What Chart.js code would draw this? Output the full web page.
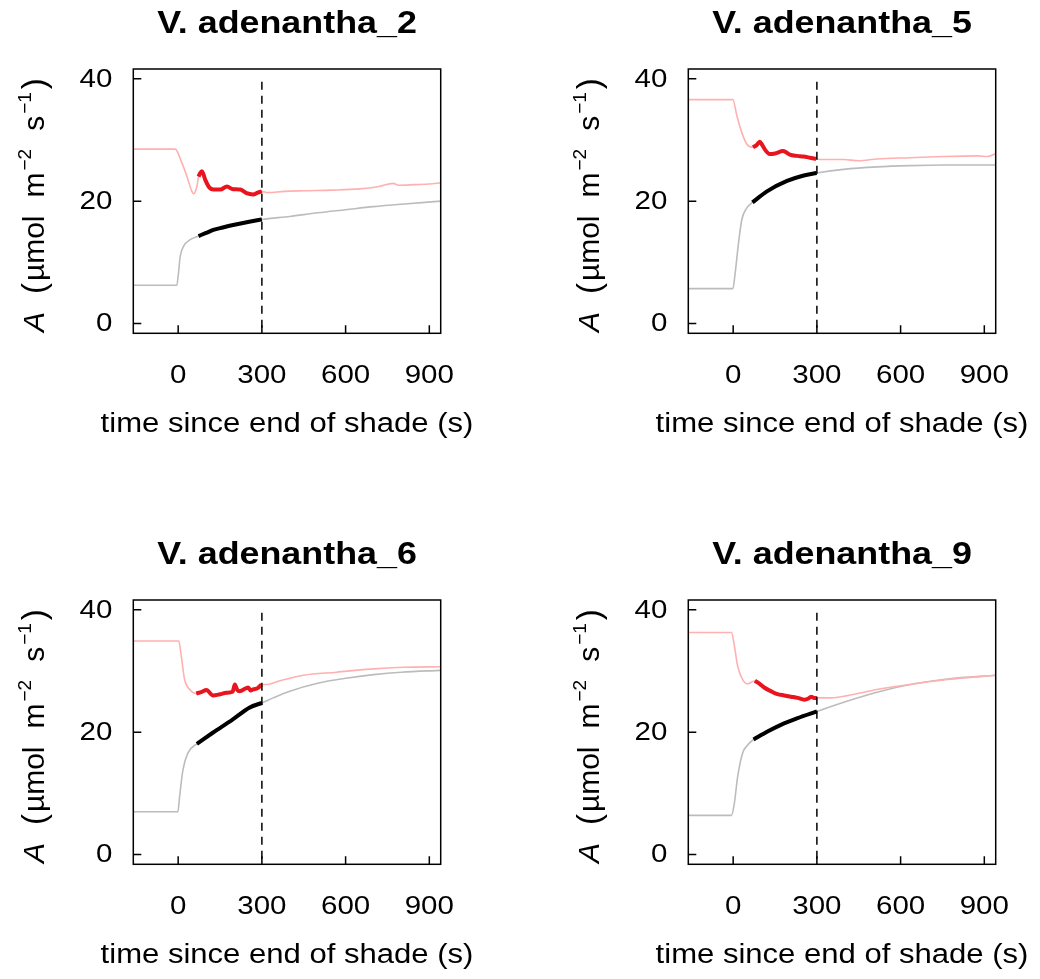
<!DOCTYPE html>
<html>
<head>
<meta charset="utf-8">
<script src="https://cdn.jsdelivr.net/npm/chart.js@4"></script>
<style>
  body { margin: 0; background: #fff; }
  #wrap { position: relative; width: 1040px; height: 979px; overflow: hidden; }
  canvas { position: absolute; }
</style>
</head>
<body>
<div id="wrap">
  <canvas id="c1" width="485" height="448" style="left:0;top:0"></canvas>
  <canvas id="c2" width="485" height="448" style="left:555px;top:0"></canvas>
  <canvas id="c3" width="485" height="448" style="left:0;top:531px"></canvas>
  <canvas id="c4" width="485" height="448" style="left:555px;top:531px"></canvas>
</div>
<script>
// panel titles and axes
const titles = ['V. adenantha_2', 'V. adenantha_5', 'V. adenantha_6', 'V. adenantha_9'];
const xTicks = [0, 300, 600, 900];
const yTicks = [0, 20, 40];
const shadeEnd = 300;

// [time (s), A]
// adenantha_2
const red2Pre  = [[-161, 28.5], [-11, 28.5], [13, 26.3], [31, 24.1], [49, 21.6], [55, 21.2], [67, 22.4]];
const red2Bold = [[73, 24.0], [79, 24.6], [85, 24.9], [97, 23.5], [109, 22.4], [127, 21.9], [151, 21.9], [175, 22.4], [193, 22.0], [223, 21.9], [245, 21.3], [269, 21.1], [285, 21.4], [300, 21.6]];
const red2Post = [[320, 21.4], [380, 21.6], [450, 21.7], [550, 21.8], [650, 22.0], [720, 22.4], [770, 22.9], [790, 22.6], [850, 22.7], [900, 22.8], [942, 23.0]];
const gry2Pre  = [[-161, 6.25], [-5, 6.25], [1, 8.2], [7, 10.9], [19, 12.6], [43, 13.7]];
const gry2Bold = [[73, 14.3], [100, 14.8], [126, 15.3], [160, 15.7], [197, 16.1], [250, 16.6], [300, 17.0]];
const gry2Post = [[400, 17.5], [500, 18.1], [600, 18.6], [700, 19.1], [800, 19.5], [942, 20.0]];
// adenantha_5
const red5Pre  = [[-161, 36.6], [-1, 36.6], [13, 34.0], [31, 31.2], [49, 29.3]];
const red5Bold = [[71, 28.8], [85, 29.2], [95, 29.7], [104, 29.2], [113, 28.5], [131, 27.7], [150, 27.8], [179, 28.2], [203, 27.6], [230, 27.4], [251, 27.3], [275, 27.1], [297, 26.9]];
const red5Post = [[330, 26.8], [396, 26.8], [450, 26.6], [516, 26.9], [636, 27.1], [756, 27.3], [876, 27.4], [910, 27.3], [942, 27.8]];
const gry5Pre  = [[-161, 5.7], [-1, 5.7], [7, 8.2], [19, 13.1], [31, 17.0], [49, 18.9]];
const gry5Bold = [[69, 19.8], [121, 21.6], [193, 23.3], [253, 24.2], [299, 24.6]];
const gry5Post = [[396, 25.2], [516, 25.6], [636, 25.8], [756, 25.9], [942, 25.9]];
// adenantha_6
const red6Pre  = [[-161, 34.9], [2, 34.9], [11, 32.5], [23, 28.6], [41, 27.0]];
const red6Bold = [[65, 26.3], [85, 26.6], [101, 26.9], [125, 26.0], [150, 26.2], [173, 26.45], [195, 26.6], [203, 27.8], [212, 26.9], [221, 26.7], [240, 27.1], [251, 27.3], [260, 26.8], [269, 27.0], [285, 27.2], [299, 27.8]];
const red6Post = [[320, 27.8], [365, 28.4], [449, 29.3], [568, 29.8], [688, 30.3], [807, 30.6], [942, 30.7]];
const gry6Pre  = [[-161, 7.0], [-1, 7.0], [5, 9.4], [17, 13.8], [35, 16.6]];
const gry6Bold = [[67, 18.1], [124, 19.9], [196, 22.1], [255, 24.0], [301, 24.8]];
const gry6Post = [[340, 25.6], [400, 26.7], [500, 28.0], [600, 28.8], [700, 29.4], [800, 29.8], [942, 30.1]];
// adenantha_9
const red9Pre  = [[-161, 36.3], [-6, 36.3], [4, 34.2], [16, 30.8], [34, 28.6], [52, 27.9]];
const red9Bold = [[78, 28.4], [95, 27.9], [111, 27.3], [135, 26.7], [159, 26.2], [183, 26.0], [207, 25.8], [231, 25.6], [255, 25.3], [270, 25.5], [279, 25.8], [290, 25.6], [300, 25.6]];
const red9Post = [[350, 25.6], [434, 26.2], [529, 27.1], [649, 27.9], [768, 28.6], [942, 29.3]];
const gry9Pre  = [[-161, 6.4], [-6, 6.4], [4, 8.3], [16, 12.7], [34, 16.6], [52, 17.9]];
const gry9Bold = [[73, 18.8], [123, 20.1], [171, 21.2], [231, 22.3], [300, 23.4]];
const gry9Post = [[410, 25.1], [529, 26.7], [649, 27.9], [768, 28.7], [942, 29.3]];

const panels = [
  [red2Pre, red2Bold, red2Post, gry2Pre, gry2Bold, gry2Post],
  [red5Pre, red5Bold, red5Post, gry5Pre, gry5Bold, gry5Post],
  [red6Pre, red6Bold, red6Post, gry6Pre, gry6Bold, gry6Post],
  [red9Pre, red9Bold, red9Post, gry9Pre, gry9Bold, gry9Post]
];

const FONT = '"Liberation Sans", Arial, sans-serif';
const pts = arr => arr.map(p => ({ x: p[0], y: p[1] }));

function stretchText(ctx, txt, x, y, font, align, sx) {
  ctx.save();
  ctx.translate(x, y);
  ctx.scale(sx, 1);
  ctx.font = font;
  ctx.textAlign = align;
  ctx.fillText(txt, 0, 0);
  ctx.restore();
}

const decor = {
  id: 'decor',
  afterDraw(chart) {
    const ctx = chart.ctx, a = chart.chartArea;
    const xs = chart.scales.x, ys = chart.scales.y;
    ctx.save();
    ctx.strokeStyle = '#000';
    ctx.fillStyle = '#000';
    ctx.lineWidth = 1.5;
    ctx.strokeRect(a.left, a.top, a.width, a.height);
    ctx.beginPath();
    xTicks.forEach(v => {
      const px = xs.getPixelForValue(v);
      ctx.moveTo(px, a.bottom); ctx.lineTo(px, a.bottom - 8);
    });
    yTicks.forEach(v => {
      const py = ys.getPixelForValue(v);
      ctx.moveTo(a.left, py); ctx.lineTo(a.left + 8, py);
    });
    ctx.stroke();

    ctx.textBaseline = 'alphabetic';
    xTicks.forEach(v => stretchText(ctx, String(v), xs.getPixelForValue(v), a.bottom + 50, '25px ' + FONT, 'center', 1.18));
    ctx.textBaseline = 'middle';
    yTicks.forEach(v => stretchText(ctx, String(v), a.left - 21, ys.getPixelForValue(v) + 1, '25px ' + FONT, 'right', 1.18));
    ctx.textBaseline = 'alphabetic';
    const cx = (a.left + a.right) / 2;
    stretchText(ctx, chart.options.plugins.decor.title, cx, 33, 'bold 32px ' + FONT, 'center', 1.12);
    stretchText(ctx, 'time since end of shade (s)', cx, 432, '27px ' + FONT, 'center', 1.15);

    // y axis label, rotated; gap = space before the piece
    const parts = [
      { t: 'A', f: 'italic 30px ' + FONT, dy: 0, gap: 0 },
      { t: '(', f: '33px ' + FONT, dy: 1, gap: 18 },
      { t: 'µmol', f: '30px ' + FONT, dy: 0, gap: 2 },
      { t: 'm', f: '30px ' + FONT, dy: 0, gap: 18 },
      { t: '−2', f: '19px ' + FONT, dy: -13, gap: 2 },
      { t: 's', f: '30px ' + FONT, dy: 0, gap: 18 },
      { t: '−1', f: '19px ' + FONT, dy: -13, gap: 2 },
      { t: ')', f: '33px ' + FONT, dy: 1, gap: 3 }
    ];
    let total = 0;
    parts.forEach(p => { ctx.font = p.f; p.w = ctx.measureText(p.t).width; total += p.w + p.gap; });
    ctx.translate(44, (a.top + a.bottom) / 2 + 4);
    ctx.rotate(-Math.PI / 2);
    ctx.textAlign = 'left';
    let x0 = -total / 2;
    parts.forEach(p => { x0 += p.gap; ctx.font = p.f; ctx.fillText(p.t, x0, p.dy); x0 += p.w; });
    ctx.restore();
  }
};

panels.forEach((s, i) => {
  const [rPre, rBold, rPost, gPre, gBold, gPost] = s;
  const line = (data, color, width, order) => ({
    data: pts(data), borderColor: color, borderWidth: width, pointRadius: 0,
    cubicInterpolationMode: 'monotone', fill: false, order
  });
  new Chart(document.getElementById('c' + (i + 1)), {
    type: 'line',
    data: {
      datasets: [
        { data: [{ x: shadeEnd, y: -3 }, { x: shadeEnd, y: 40 }], borderColor: '#000', borderWidth: 1.5,
          borderDash: [8, 6], pointRadius: 0, order: 0 },
        line(rBold, '#e8141e', 4, 1),
        line(gBold, '#000000', 4, 2),
        line([...rPre, ...rBold, ...rPost], '#ffb0b0', 1.6, 3),
        line([...gPre, ...gBold, ...gPost], '#bcbcbc', 1.6, 4)
      ]
    },
    options: {
      responsive: false,
      animation: false,
      layout: { padding: { left: 0, top: 69, right: 44.3, bottom: 0 } },
      plugins: { legend: { display: false }, tooltip: { enabled: false }, decor: { title: titles[i] } },
      scales: {
        x: {
          type: 'linear', min: -160.8, max: 940.8,
          grid: { display: false }, border: { display: false }, ticks: { display: false },
          afterFit: sc => { sc.height = 114.7; }
        },
        y: {
          min: -1.6, max: 41.6,
          grid: { display: false }, border: { display: false }, ticks: { display: false },
          afterFit: sc => { sc.width = 133.3; }
        }
      }
    },
    plugins: [decor]
  });
});
</script>
</body>
</html>
